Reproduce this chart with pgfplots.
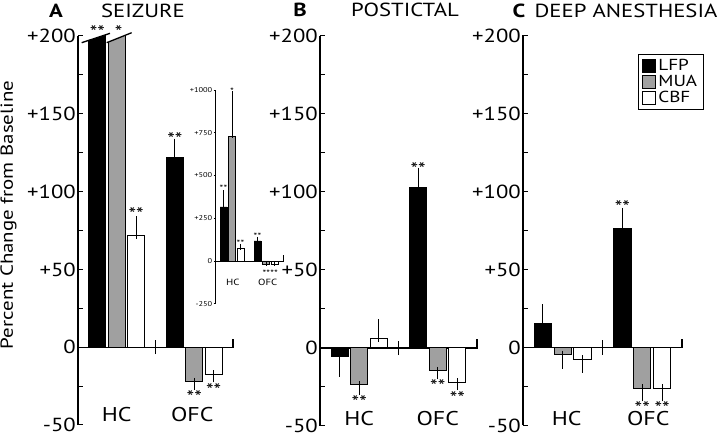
\documentclass[border=0pt]{standalone}
\usepackage{fontspec}
\setmainfont{PT Sans}[FakeStretch=1.2]
\usepackage{pgfplots}
\usepackage{pgfplotstable}
\pgfplotsset{compat=1.18}
\definecolor{muagray}{RGB}{160,160,160}

% x y ep em
\pgfplotstableread{
x y ep em
1 316 0 0
5 122 9.5 0
}\Alfp
\pgfplotstableread{
x y ep em
2 729 0 0
6 -22.3 0 2.4
}\Amua
\pgfplotstableread{
x y ep em
3 72 9.6 0
7 -17.4 0 2.6
}\Acbf
\pgfplotstableread{
x y ep em
1 -5.6 0 10.4
5 103 10 0
}\Blfp
\pgfplotstableread{
x y ep em
2 -23.7 0 4
6 -14.7 0 2.8
}\Bmua
\pgfplotstableread{
x y ep em
3 6.2 9.6 0
7 -22 0 2.5
}\Bcbf
\pgfplotstableread{
x y ep em
1 15.5 9.5 0
5 76.2 10.8 0
}\Clfp
\pgfplotstableread{
x y ep em
2 -4.5 0 6.5
6 -26 0 6
}\Cmua
\pgfplotstableread{
x y ep em
3 -7.5 0 6
7 -26 0 6
}\Ccbf
\pgfplotstableread{
x y ep em
1 316 86 0
5 117 13 0
}\Ilfp
\pgfplotstableread{
x y ep em
2 729 252 0
6 -18 0 0
}\Imua
\pgfplotstableread{
x y ep em
3 74 14 0
7 -18 0 0
}\Icbf

\newcommand{\st}[1]{\raisebox{-0.4em}[0.33em][0pt]{#1}}
\tikzset{
  zl/.style={line width=1.1bp, black},
  star/.style={font=\fontsize{18}{18}\selectfont, inner sep=0pt},
  cat/.style={font=\fontsize{20}{20}\selectfont, inner sep=1bp},
}
\pgfplotsset{
  panel/.style={
    scale only axis, anchor=south west,
    xmin=0, xmax=8, ymin=-50, ymax=200,
    axis x line=none, axis y line*=left,
    ytick={-50,0,50,100,150,200},
    yticklabels={-50,0,+50,+100,+150,+200},
    minor ytick={-25,25,75,125,175},
    tick align=inside,
    major tick length=5bp, minor tick length=5bp,
    yticklabel style={font=\fontsize{19}{19}\selectfont, inner sep=2bp},
    axis line style={line width=1.1bp, black},
    every tick/.style={line width=1bp, black},
    clip=true, clip mode=individual,
    ybar, bar shift=0pt, bar width=0.87,
  },
  lfp/.style={fill=black, draw=black, line width=1bp},
  mua/.style={fill=muagray, draw=black, line width=1bp},
  cbf/.style={fill=white, draw=black, line width=1bp},
  err/.style={error bars/.cd, y dir=both, y explicit,
    error bar style={line width=1bp, black},
    error mark options={black, line width=1bp, mark size=4bp}},
  ierr/.style={error bars/.cd, y dir=both, y explicit,
    error bar style={line width=0.6bp, black},
    error mark options={black, line width=0.6bp, mark size=2bp}},
  sq/.style={legend image code/.code={\draw[##1, line width=1bp] (0bp,-6.5bp) rectangle (13bp,6.5bp);}},
}

\begin{document}
\begin{tikzpicture}[x=1bp,y=1bp]
\useasboundingbox (0,0) rectangle (720,436);

% titles
\node[font=\bfseries\fontsize{19}{19}\selectfont] at (56,425) {A};
\node[font=\fontsize{19}{19}\selectfont] at (143,425) {SEIZURE};
\node[font=\bfseries\fontsize{19}{19}\selectfont] at (300,426) {B};
\node[font=\fontsize{19}{19}\selectfont] at (405,426) {POSTICTAL};
\node[font=\bfseries\fontsize{19}{19}\selectfont] at (519,425) {C};
\node[font=\fontsize{19}{19}\selectfont] at (626,425) {DEEP ANESTHESIA};
\node[rotate=90, font=\fontsize{17.5}{17.5}\selectfont] at (8.5,221) {Percent Change from Baseline};

% ---------- Panel A ----------
\begin{axis}[panel, at={(78bp,11bp)}, width=155bp, height=389bp]
\draw[zl] (axis cs:0,0) -- (axis cs:8,0) -- (axis cs:8,5.5);
\draw[zl] (axis cs:4,-4.5) -- (axis cs:4,4.5);
\addplot[lfp, err] table[x=x,y=y,y error plus=ep,y error minus=em] {\Alfp};
\addplot[mua, err] table[x=x,y=y,y error plus=ep,y error minus=em] {\Amua};
\addplot[cbf, err] table[x=x,y=y,y error plus=ep,y error minus=em] {\Acbf};
% axis break
\fill[white] (axis cs:0.5,196.97) -- (axis cs:1.5,201.1) -- (axis cs:1.5,203) -- (axis cs:0.5,203) -- cycle;
\fill[white] (axis cs:1.5,195.8) -- (axis cs:2.5,200.76) -- (axis cs:2.5,203) -- (axis cs:1.5,203) -- cycle;
\draw[line width=1.3bp] (axis cs:0.19,195.7) -- (axis cs:1.65,201.7);
\draw[line width=1.3bp] (axis cs:1.48,195.7) -- (axis cs:2.77,202.1);
\node[star] at (axis cs:1,205) {\st{**}};
\node[star] at (axis cs:2.1,205) {\st{*}};
\node[star] at (axis cs:3,87.7) {\st{**}};
\node[star] at (axis cs:5,136) {\st{**}};
\node[star] at (axis cs:6,-29.5) {\st{**}};
\node[star] at (axis cs:7,-25) {\st{**}};
\node[cat] at (axis cs:2,-43.5) {HC};
\node[cat] at (axis cs:5.9,-43.5) {OFC};
\end{axis}

% ---------- Inset ----------
\begin{axis}[scale only axis, anchor=south west, at={(215bp,132.25bp)}, width=68bp, height=213.75bp,
  xmin=0, xmax=8, ymin=-250, ymax=1000,
  axis x line=none, axis y line*=left,
  ytick={-250,0,250,500,750,1000},
  yticklabels={-250,0,+250,+500,+750,+1000},
  tick align=outside, major tick length=1.5bp,
  yticklabel style={font=\fontsize{7}{7}\selectfont, inner sep=1bp},
  axis line style={line width=0.7bp, black},
  every tick/.style={line width=0.6bp, black},
  clip=false, ybar, bar shift=0pt, bar width=0.8]
\draw[line width=0.7bp] (axis cs:0,0) -- (axis cs:8,0) -- (axis cs:8,35);
\addplot[fill=black, draw=black, line width=0.6bp, ierr] table[x=x,y=y,y error plus=ep,y error minus=em] {\Ilfp};
\addplot[fill=muagray, draw=black, line width=0.6bp, ierr] table[x=x,y=y,y error plus=ep,y error minus=em] {\Imua};
\addplot[fill=white, draw=black, line width=0.6bp, ierr] table[x=x,y=y,y error plus=ep,y error minus=em] {\Icbf};
\node[font=\fontsize{9}{9}\selectfont, inner sep=0pt] at (axis cs:1,434) {\st{**}};
\node[font=\fontsize{9}{9}\selectfont, inner sep=0pt] at (axis cs:2,1005) {\st{*}};
\node[font=\fontsize{9}{9}\selectfont, inner sep=0pt] at (axis cs:3,113) {\st{**}};
\node[font=\fontsize{9}{9}\selectfont, inner sep=0pt] at (axis cs:5,158) {\st{**}};
\node[font=\fontsize{9}{9}\selectfont, inner sep=0pt] at (axis cs:6.5,-63) {\st{****}};
\node[font=\fontsize{9}{9}\selectfont] at (axis cs:2.1,-123) {HC};
\node[font=\fontsize{9}{9}\selectfont] at (axis cs:6.2,-123) {OFC};
\end{axis}

% ---------- Panel B ----------
\begin{axis}[panel, at={(320bp,10bp)}, width=157bp, height=390bp]
\draw[zl] (axis cs:0,0) -- (axis cs:8,0) -- (axis cs:8,5.5);
\draw[zl] (axis cs:4,-4.5) -- (axis cs:4,4.5);
\addplot[lfp, err] table[x=x,y=y,y error plus=ep,y error minus=em] {\Blfp};
\addplot[mua, err] table[x=x,y=y,y error plus=ep,y error minus=em] {\Bmua};
\addplot[cbf, err] table[x=x,y=y,y error plus=ep,y error minus=em] {\Bcbf};
\node[star] at (axis cs:2,-32) {\st{**}};
\node[star] at (axis cs:5,117) {\st{**}};
\node[star] at (axis cs:6,-22.2) {\st{**}};
\node[star] at (axis cs:7,-29.7) {\st{**}};
\node[cat] at (axis cs:2,-45.5) {HC};
\node[cat] at (axis cs:6,-45.5) {OFC};
\end{axis}

% ---------- Panel C ----------
\begin{axis}[panel, at={(523bp,10.5bp)}, width=159bp, height=390bp,
  legend style={at={(axis cs:5.78,188)}, anchor=north west, draw=black, line width=1bp,
    font=\fontsize{16}{16}\selectfont, row sep=-1bp, inner xsep=4bp, inner ysep=3bp,
    cells={anchor=west},
    /tikz/every even column/.append style={column sep=3bp}}]
\draw[zl] (axis cs:0,0) -- (axis cs:8,0) -- (axis cs:8,5.5);
\draw[zl] (axis cs:4,-4.5) -- (axis cs:4,4.5);
\addplot[lfp, sq, err] table[x=x,y=y,y error plus=ep,y error minus=em] {\Clfp};
\addplot[mua, sq, err] table[x=x,y=y,y error plus=ep,y error minus=em] {\Cmua};
\addplot[cbf, sq, err] table[x=x,y=y,y error plus=ep,y error minus=em] {\Ccbf};
\legend{LFP,MUA,CBF}
\node[star] at (axis cs:5,92.3) {\st{**}};
\node[star] at (axis cs:6,-36.5) {\st{**}};
\node[star] at (axis cs:7,-36.5) {\st{**}};
\node[cat] at (axis cs:2.2,-45.5) {HC};
\node[cat] at (axis cs:6.3,-45.5) {OFC};
\end{axis}
\end{tikzpicture}
\end{document}
